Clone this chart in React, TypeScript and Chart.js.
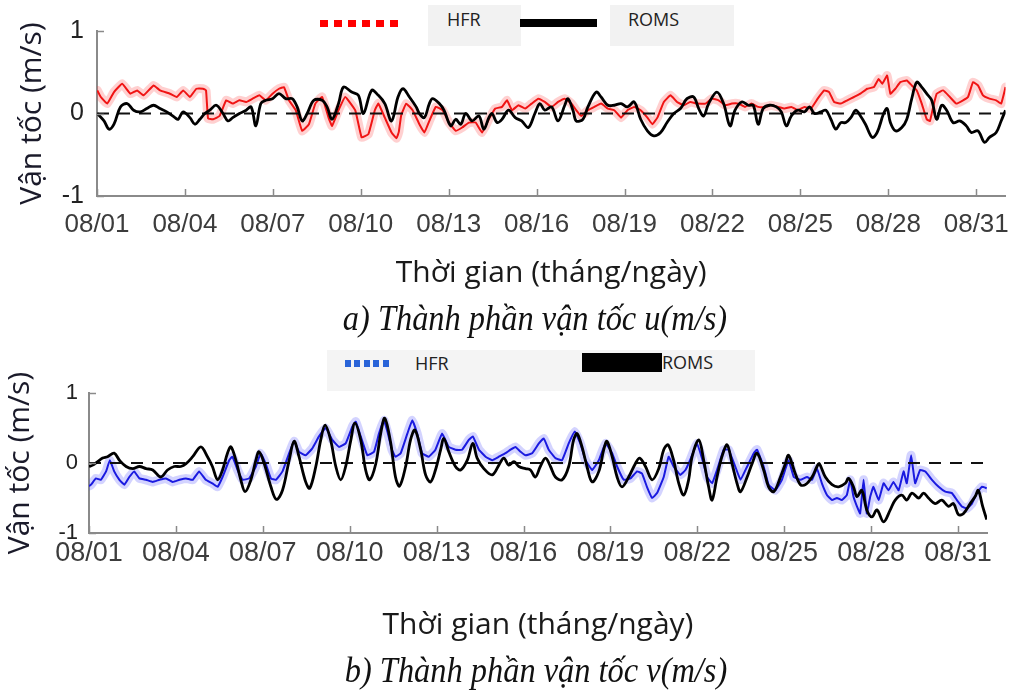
import React, { useEffect, useRef } from 'react';
import { Chart, registerables } from 'chart.js';

Chart.register(...registerables);

// ---------- data ----------
const tickDays = [1, 4, 7, 10, 13, 16, 19, 22, 25, 28, 31];
const tickLabels = ['08/01', '08/04', '08/07', '08/10', '08/13', '08/16', '08/19', '08/22', '08/25', '08/28', '08/31'];
const yTickValues = [-1, 0, 1];
const yTickLabels = ['-1', '0', '1'];
const zeroLine: [number, number][] = [[1, 0], [32, 0]];

// a) u component — HFR
const uHfr: [number, number][] = [
  [1.01,0.28],[1.13,0.20],[1.35,0.12],[1.58,0.26],[1.86,0.36],[2.14,0.24],[2.37,0.28],[2.59,0.22],[2.93,0.34],[3.15,0.28],
  [3.49,0.24],[3.72,0.20],[3.94,0.28],[4.17,0.20],[4.39,0.30],[4.62,0.30],[4.72,0.28],[4.79,-0.06],[4.96,-0.07],[5.18,-0.03],
  [5.41,0.16],[5.63,0.12],[5.86,0.16],[6.09,0.14],[6.31,0.18],[6.54,0.22],[6.76,0.16],[6.99,0.24],[7.21,0.30],[7.38,0.32],
  [7.55,0.16],[7.78,0.04],[8.00,-0.21],[8.23,-0.13],[8.45,0.12],[8.68,0.20],[8.90,-0.05],[9.02,-0.15],[9.24,0.04],[9.47,0.20],
  [9.81,0.04],[10.03,-0.29],[10.26,-0.25],[10.48,0.04],[10.60,0.12],[10.82,-0.05],[11.05,-0.23],[11.22,-0.30],[11.30,-0.22],[11.38,-0.02],
  [11.55,0.12],[11.77,0.04],[12.00,-0.13],[12.17,-0.23],[12.34,-0.09],[12.56,0.08],[12.79,0.04],[13.01,-0.11],[13.24,-0.21],[13.46,-0.17],
  [13.69,-0.11],[13.92,-0.11],[14.14,-0.23],[14.37,-0.07],[14.59,0.06],[14.82,0.08],[14.99,0.16],[15.16,0.04],[15.38,0.10],[15.61,0.06],
  [15.83,0.12],[16.06,0.18],[16.28,0.14],[16.51,0.08],[16.73,0.14],[16.96,0.18],[17.19,0.12],[17.35,0.04],[17.52,-0.03],[17.75,0.04],
  [17.97,0.08],[18.20,0.12],[18.43,0.06],[18.65,0.04],[18.88,-0.05],[19.10,0.04],[19.33,0.08],[19.55,0.04],[19.78,-0.05],[19.95,-0.13],
  [20.12,-0.05],[20.34,0.14],[20.57,0.22],[20.79,0.14],[21.02,0.10],[21.24,0.14],[21.47,0.12],[21.76,0.12],[21.98,0.18],[22.21,0.16],
  [22.43,0.10],[22.66,0.12],[22.88,0.12],[23.11,0.08],[23.33,0.12],[23.56,0.08],[23.78,0.08],[24.01,0.10],[24.24,0.08],[24.46,0.06],
  [24.69,0.08],[24.91,0.04],[25.14,0.08],[25.36,0.06],[25.59,0.18],[25.81,0.28],[25.98,0.26],[26.15,0.14],[26.38,0.12],[26.60,0.16],
  [26.83,0.20],[27.05,0.24],[27.28,0.30],[27.51,0.32],[27.67,0.42],[27.79,0.36],[27.96,0.46],[28.07,0.24],[28.24,0.30],[28.41,0.38],
  [28.63,0.40],[28.80,0.34],[28.97,0.28],[29.14,0.12],[29.31,-0.07],[29.42,-0.09],[29.53,0.08],[29.65,0.24],[29.87,0.28],[30.10,0.20],
  [30.32,0.12],[30.55,0.16],[30.72,0.20],[30.89,0.38],[31.06,0.34],[31.23,0.22],[31.45,0.18],[31.68,0.16],[31.85,0.12],[32.0,0.32],
];

// a) u component — ROMS
const uRoms: [number, number][] = [
  [1.01,0.00],[1.24,-0.09],[1.41,-0.19],[1.58,-0.13],[1.80,0.08],[2.03,0.12],[2.25,0.04],[2.48,0.02],[2.70,0.06],[2.93,0.10],
  [3.15,0.06],[3.38,0.02],[3.66,-0.05],[3.77,-0.07],[3.94,0.02],[4.17,-0.05],[4.34,-0.13],[4.51,-0.07],[4.68,0.00],[4.85,0.04],
  [5.07,0.10],[5.30,0.00],[5.47,-0.09],[5.63,-0.05],[5.86,0.00],[6.09,0.04],[6.26,0.08],[6.42,-0.15],[6.59,0.12],[6.76,0.16],
  [6.99,0.18],[7.21,0.24],[7.44,0.18],[7.66,0.18],[7.83,0.08],[8.00,-0.09],[8.17,0.00],[8.40,0.16],[8.68,0.16],[8.85,0.08],
  [9.02,-0.07],[9.24,0.12],[9.41,0.32],[9.69,0.26],[9.92,0.22],[10.09,0.00],[10.37,0.28],[10.60,0.22],[10.82,0.12],[11.05,-0.09],
  [11.27,0.20],[11.44,0.30],[11.66,0.20],[11.89,0.08],[12.00,0.00],[12.17,-0.05],[12.34,0.12],[12.45,0.18],[12.68,0.12],[12.84,0.04],
  [13.07,-0.15],[13.24,-0.07],[13.41,-0.13],[13.58,0.00],[13.80,-0.09],[14.03,-0.03],[14.20,-0.19],[14.37,-0.05],[14.48,0.00],[14.65,-0.11],
  [14.82,-0.07],[15.04,0.04],[15.27,-0.05],[15.49,-0.09],[15.72,-0.17],[15.94,0.00],[16.11,0.12],[16.28,0.04],[16.51,0.08],[16.73,-0.09],
  [16.96,0.10],[17.07,0.18],[17.24,0.04],[17.35,-0.09],[17.58,-0.07],[17.75,0.08],[18.03,0.26],[18.20,0.20],[18.43,0.10],[18.65,0.10],
  [18.88,0.12],[19.10,0.08],[19.33,0.14],[19.55,-0.07],[19.78,-0.21],[20.00,-0.27],[20.23,-0.23],[20.45,-0.11],[20.68,0.00],[20.91,0.06],
  [21.13,0.18],[21.36,0.20],[21.53,0.06],[21.70,-0.03],[21.87,0.12],[22.15,0.26],[22.38,0.12],[22.60,-0.15],[22.77,0.04],[23.00,0.14],
  [23.22,0.10],[23.39,0.10],[23.56,-0.13],[23.73,0.06],[23.95,0.10],[24.18,0.08],[24.35,0.02],[24.52,-0.15],[24.69,-0.03],[24.91,0.04],
  [25.14,0.02],[25.31,0.08],[25.48,0.00],[25.70,0.02],[25.87,0.04],[26.04,-0.07],[26.21,-0.19],[26.38,-0.11],[26.55,-0.11],[26.72,-0.05],
  [26.89,0.04],[27.05,-0.03],[27.22,-0.13],[27.45,-0.29],[27.62,-0.23],[27.84,0.00],[27.96,0.06],[28.07,-0.11],[28.24,-0.21],[28.46,-0.17],
  [28.63,-0.07],[28.80,0.18],[28.97,0.38],[29.14,0.32],[29.31,0.24],[29.48,0.16],[29.65,-0.07],[29.82,0.10],[29.99,0.04],[30.21,-0.11],
  [30.44,-0.09],[30.66,-0.15],[30.83,-0.23],[31.06,-0.21],[31.28,-0.35],[31.45,-0.29],[31.68,-0.23],[31.85,-0.09],[32.0,0.04],
];

// b) v component — HFR
const vHfr: [number, number][] = [
  [1.0,-0.33],[1.07,-0.31],[1.24,-0.22],[1.41,-0.24],[1.59,-0.12],[1.72,0.04],[1.87,-0.12],[2.05,-0.24],[2.22,-0.31],[2.39,-0.20],
  [2.56,-0.12],[2.74,-0.22],[2.97,-0.24],[3.20,-0.27],[3.43,-0.24],[3.66,-0.22],[3.89,-0.27],[4.12,-0.24],[4.35,-0.22],[4.58,-0.24],
  [4.80,-0.12],[5.03,-0.24],[5.26,-0.29],[5.44,-0.34],[5.61,-0.20],[5.84,0.04],[5.95,0.09],[6.13,-0.10],[6.30,-0.24],[6.53,-0.22],
  [6.76,-0.05],[6.93,0.14],[7.10,-0.01],[7.28,-0.22],[7.45,-0.24],[7.68,-0.12],[7.91,0.14],[8.08,0.31],[8.25,0.16],[8.48,0.11],
  [8.71,0.21],[8.94,0.38],[9.17,0.50],[9.40,0.33],[9.63,0.23],[9.86,0.28],[10.09,0.52],[10.21,0.59],[10.38,0.38],[10.61,0.11],
  [10.84,0.16],[11.01,0.42],[11.18,0.61],[11.30,0.45],[11.45,0.20],[11.58,0.09],[11.76,0.14],[11.99,0.42],[12.16,0.61],[12.33,0.42],
  [12.50,0.14],[12.73,0.09],[12.96,0.19],[13.19,0.42],[13.42,0.23],[13.65,0.19],[13.88,0.19],[14.11,0.33],[14.25,0.38],[14.46,0.19],
  [14.69,0.09],[14.92,0.04],[15.15,0.09],[15.38,0.14],[15.55,0.19],[15.72,0.23],[15.90,0.16],[16.07,0.11],[16.30,0.14],[16.53,0.28],
  [16.70,0.35],[16.87,0.19],[17.10,0.07],[17.33,0.04],[17.56,0.28],[17.77,0.45],[17.96,0.28],[18.14,0.04],[18.37,-0.10],[18.60,0.04],
  [18.83,0.28],[19.06,0.14],[19.23,-0.05],[19.46,-0.24],[19.69,-0.22],[19.92,-0.12],[20.09,-0.15],[20.26,-0.34],[20.44,-0.50],[20.61,-0.43],
  [20.84,-0.20],[21.01,0.09],[21.18,-0.05],[21.41,-0.17],[21.59,-0.10],[21.76,0.05],[21.99,0.28],[22.16,0.07],[22.34,-0.20],[22.51,-0.29],
  [22.68,-0.10],[22.91,0.19],[23.08,0.19],[23.31,-0.05],[23.49,-0.24],[23.72,-0.05],[23.95,0.14],[24.06,0.19],[24.29,-0.05],[24.46,-0.31],
  [24.69,-0.39],[24.92,-0.24],[25.15,0.04],[25.33,-0.20],[25.56,-0.24],[25.79,-0.20],[25.96,-0.24],[26.13,-0.08],[26.30,-0.29],[26.48,-0.46],
  [26.65,-0.53],[26.82,-0.50],[26.99,-0.53],[27.16,-0.46],[27.28,-0.24],[27.39,-0.48],[27.51,-0.62],[27.62,-0.72],[27.74,-0.24],[27.85,-0.72],
  [27.97,-0.48],[28.08,-0.34],[28.26,-0.53],[28.43,-0.29],[28.60,-0.39],[28.77,-0.27],[28.95,-0.39],[29.12,-0.12],[29.23,-0.29],[29.38,0.11],
  [29.52,-0.29],[29.69,-0.10],[29.87,-0.12],[30.10,-0.24],[30.33,-0.34],[30.56,-0.41],[30.79,-0.43],[30.96,-0.53],[31.13,-0.62],[31.30,-0.65],
  [31.48,-0.58],[31.65,-0.43],[31.82,-0.34],[31.99,-0.36],
];

// b) v component — ROMS
const vRoms: [number, number][] = [
  [1.0,-0.05],[1.13,-0.03],[1.30,0.02],[1.47,0.07],[1.64,0.09],[1.87,0.14],[2.05,0.04],[2.28,-0.05],[2.51,-0.08],[2.74,-0.05],
  [2.97,-0.08],[3.20,-0.10],[3.48,-0.20],[3.71,-0.10],[3.94,-0.05],[4.17,-0.05],[4.35,-0.01],[4.58,0.09],[4.86,0.23],[5.09,0.09],
  [5.26,-0.05],[5.44,-0.24],[5.61,-0.10],[5.78,0.14],[5.90,0.23],[6.07,0.04],[6.24,-0.24],[6.39,-0.41],[6.59,-0.24],[6.76,0.04],
  [6.87,0.16],[7.05,-0.01],[7.28,-0.34],[7.47,-0.52],[7.68,-0.39],[7.91,0.04],[8.08,0.31],[8.25,0.09],[8.48,-0.27],[8.62,-0.36],
  [8.83,-0.05],[9.00,0.33],[9.15,0.54],[9.34,0.33],[9.52,-0.05],[9.69,-0.24],[9.86,-0.05],[10.04,0.33],[10.18,0.57],[10.38,0.33],
  [10.55,-0.10],[10.69,-0.24],[10.90,-0.01],[11.07,0.42],[11.21,0.64],[11.41,0.30],[11.58,-0.20],[11.72,-0.33],[11.93,-0.05],[12.10,0.33],
  [12.25,0.47],[12.45,0.19],[12.62,-0.17],[12.79,-0.27],[12.96,-0.10],[13.14,0.19],[13.25,0.35],[13.42,0.16],[13.65,-0.05],[13.83,-0.10],
  [14.06,0.04],[14.25,0.28],[14.40,0.07],[14.63,-0.08],[14.92,-0.17],[15.15,-0.03],[15.32,0.07],[15.49,-0.03],[15.67,0.02],[15.84,-0.05],
  [16.07,-0.08],[16.24,-0.10],[16.41,-0.20],[16.58,-0.05],[16.76,0.07],[16.93,-0.05],[17.10,-0.20],[17.33,-0.24],[17.56,-0.05],[17.73,0.33],
  [17.85,0.42],[18.02,0.23],[18.19,-0.05],[18.37,-0.27],[18.60,-0.12],[18.77,0.19],[18.88,0.31],[19.06,0.09],[19.23,-0.20],[19.40,-0.34],
  [19.63,-0.20],[19.86,-0.01],[20.01,0.07],[20.21,-0.05],[20.44,-0.24],[20.67,-0.08],[20.84,0.19],[20.99,0.26],[21.18,0.04],[21.36,-0.29],
  [21.53,-0.46],[21.70,-0.24],[21.82,0.09],[22.05,0.33],[22.22,0.04],[22.39,-0.34],[22.51,-0.53],[22.68,-0.20],[22.85,0.09],[23.03,0.26],
  [23.20,-0.01],[23.37,-0.29],[23.49,-0.41],[23.72,-0.20],[23.89,-0.01],[24.06,0.14],[24.29,-0.10],[24.46,-0.34],[24.64,-0.41],[24.87,-0.20],
  [25.04,-0.01],[25.15,0.11],[25.38,-0.15],[25.56,-0.31],[25.73,-0.31],[25.96,-0.20],[26.13,-0.05],[26.21,-0.01],[26.42,-0.20],[26.65,-0.31],
  [26.88,-0.34],[27.11,-0.29],[27.22,-0.22],[27.39,-0.34],[27.51,-0.48],[27.68,-0.39],[27.85,-0.67],[28.03,-0.77],[28.20,-0.67],[28.43,-0.84],
  [28.66,-0.67],[28.83,-0.53],[29.06,-0.46],[29.23,-0.53],[29.41,-0.43],[29.64,-0.50],[29.81,-0.43],[29.98,-0.50],[30.21,-0.58],[30.44,-0.53],
  [30.67,-0.62],[30.84,-0.58],[31.02,-0.74],[31.19,-0.72],[31.42,-0.58],[31.59,-0.48],[31.70,-0.39],[31.85,-0.62],[31.99,-0.81],
];

// ---------- styling ----------
const AXIS_COLOR = '#8a8a8a';
const TICK_COLOR = '#3c3c3c';
const TITLE_FONT = '"Open Sans", "Noto Sans", sans-serif';
const TICK_FONT = '"Liberation Sans", Arial, sans-serif';

const innerTicks = {
  id: 'innerTicks',
  afterDraw(chart: any) {
    const { ctx, chartArea, scales } = chart;
    ctx.save();
    ctx.strokeStyle = AXIS_COLOR;
    ctx.lineWidth = 1.5;
    scales.x.ticks.forEach((t: any) => {
      const px = Math.round(scales.x.getPixelForValue(t.value)) + 0.5;
      ctx.beginPath();
      ctx.moveTo(px, chartArea.bottom);
      ctx.lineTo(px, chartArea.bottom - 7);
      ctx.stroke();
    });
    scales.y.ticks.forEach((t: any) => {
      const py = Math.round(scales.y.getPixelForValue(t.value)) + 0.5;
      ctx.beginPath();
      ctx.moveTo(chartArea.left, py);
      ctx.lineTo(chartArea.left + 7, py);
      ctx.stroke();
    });
    ctx.restore();
  },
};

type Geo = {
  width: number; height: number; padTop: number; padRight: number;
  yWidth: number; xHeight: number;
  xTickSize: number; xTickPad: number; yTickSize: number; yTickPad: number;
  titleSize: number; yTitlePad: number; xTitlePad: number;
};

function buildConfig(hfr: [number, number][], roms: [number, number][], hfrColor: string, haloColor: string, g: Geo): any {
  const toXY = (arr: [number, number][]) => arr.map(([x, y]) => ({ x, y }));
  return {
    type: 'line',
    data: {
      datasets: [
        { data: toXY(roms), borderColor: '#000', borderWidth: 2.8, tension: 0.35, pointRadius: 0, order: 1, borderJoinStyle: 'round' },
        { data: toXY(zeroLine), borderColor: '#111', borderWidth: 2, borderDash: [12, 9], pointRadius: 0, order: 2 },
        { data: toXY(hfr), borderColor: hfrColor, borderWidth: 2, pointRadius: 0, order: 3, tension: 0.1, borderJoinStyle: 'round' },
        { data: toXY(hfr), borderColor: haloColor, borderWidth: 9, pointRadius: 0, order: 4, tension: 0.1, borderJoinStyle: 'round', borderCapStyle: 'round' },
      ],
    },
    options: {
      animation: false,
      responsive: false,
      events: [],
      layout: { padding: { top: g.padTop, right: g.padRight, left: 0, bottom: 0 } },
      plugins: { legend: { display: false }, tooltip: { enabled: false } },
      scales: {
        x: {
          type: 'linear', min: 1, max: 32,
          afterBuildTicks: (s: any) => { s.ticks = tickDays.map((v) => ({ value: v })); },
          afterFit: (s: any) => { s.height = g.xHeight; },
          grid: { display: false, drawTicks: false },
          border: { display: true, color: AXIS_COLOR, width: 2 },
          ticks: {
            autoSkip: false, maxRotation: 0, padding: g.xTickPad, color: TICK_COLOR,
            font: { family: TICK_FONT, size: g.xTickSize },
            callback: (_v: any, i: number) => tickLabels[i],
          },
          title: {
            display: true, text: 'Thời gian (tháng/ngày)', color: '#1a1a1a',
            font: { family: TITLE_FONT, size: g.titleSize },
            padding: { top: 0, bottom: g.xTitlePad },
          },
        },
        y: {
          type: 'linear', min: -1, max: 1,
          afterBuildTicks: (s: any) => { s.ticks = yTickValues.map((v) => ({ value: v })); },
          afterFit: (s: any) => { s.width = g.yWidth; },
          grid: { display: false, drawTicks: false },
          border: { display: true, color: AXIS_COLOR, width: 2 },
          ticks: {
            padding: g.yTickPad, color: '#222',
            font: { family: TICK_FONT, size: g.yTickSize },
            callback: (_v: any, i: number) => yTickLabels[i],
          },
          title: {
            display: true, text: 'Vận tốc (m/s)', color: '#1a1a2a',
            font: { family: TITLE_FONT, size: g.titleSize },
            padding: { top: g.yTitlePad, bottom: 0 },
          },
        },
      },
    },
    plugins: [innerTicks],
  };
}

function PanelChart(props: { hfr: [number, number][]; roms: [number, number][]; hfrColor: string; haloColor: string; g: Geo; top: number }) {
  const ref = useRef<HTMLCanvasElement | null>(null);
  useEffect(() => {
    if (!ref.current) return;
    const chart = new Chart(ref.current, buildConfig(props.hfr, props.roms, props.hfrColor, props.haloColor, props.g));
    return () => chart.destroy();
  }, []);
  return (
    <canvas
      ref={ref}
      width={props.g.width}
      height={props.g.height}
      style={{ position: 'absolute', left: 0, top: props.top, width: props.g.width, height: props.g.height }}
    />
  );
}

const geoA: Geo = {
  width: 1022, height: 340, padTop: 31, padRight: 7, yWidth: 97, xHeight: 144,
  xTickSize: 26, xTickPad: 13, yTickSize: 25, yTickPad: 13,
  titleSize: 30, yTitlePad: 14, xTitlePad: 49,
};
const geoB: Geo = {
  width: 1022, height: 352, padTop: 53, padRight: 35, yWidth: 89, xHeight: 159,
  xTickSize: 27, xTickPad: 4, yTickSize: 22, yTickPad: 11,
  titleSize: 30, yTitlePad: 2, xTitlePad: 49,
};

const legendText: React.CSSProperties = {
  position: 'absolute', fontFamily: TITLE_FONT, fontSize: 18, color: '#222', lineHeight: '20px',
};
const captionStyle: React.CSSProperties = {
  position: 'absolute', fontFamily: '"Liberation Serif", "Times New Roman", serif', fontStyle: 'italic',
  fontSize: 36, color: '#111', whiteSpace: 'nowrap', lineHeight: '40px',
};

export default function App() {
  return (
    <div style={{ position: 'fixed', left: 0, top: 0, width: 1022, height: 692, background: '#fff', overflow: 'hidden' }}>
      <PanelChart hfr={uHfr} roms={uRoms} hfrColor="#f01414" haloColor="rgba(255,60,60,0.24)" g={geoA} top={0} />
      <PanelChart hfr={vHfr} roms={vRoms} hfrColor="#1a1ae0" haloColor="rgba(70,70,255,0.24)" g={geoB} top={340} />

      {/* legend a */}
      <div style={{ position: 'absolute', left: 320, top: 20, width: 78, height: 7, background: 'repeating-linear-gradient(90deg, #ff0000 0 8px, transparent 8px 14px)' }} />
      <div style={{ position: 'absolute', left: 428, top: 5, width: 93, height: 41, background: '#f2f2f2' }} />
      <div style={{ ...legendText, left: 447, top: 9 }}>HFR</div>
      <div style={{ position: 'absolute', left: 520, top: 19, width: 77, height: 8, background: '#000' }} />
      <div style={{ position: 'absolute', left: 610, top: 5, width: 124, height: 41, background: '#f2f2f2' }} />
      <div style={{ ...legendText, left: 628, top: 9 }}>ROMS</div>

      {/* legend b */}
      <div style={{ position: 'absolute', left: 327, top: 350, width: 428, height: 41, background: '#f4f4f4' }} />
      <div style={{ position: 'absolute', left: 345, top: 360, width: 47, height: 7, background: 'repeating-linear-gradient(90deg, #2a64d8 0 6px, transparent 6px 9.5px)' }} />
      <div style={{ ...legendText, left: 415, top: 353 }}>HFR</div>
      <div style={{ position: 'absolute', left: 582, top: 353, width: 80, height: 19, background: '#000' }} />
      <div style={{ ...legendText, left: 662, top: 352 }}>ROMS</div>

      {/* captions */}
      <div style={{ ...captionStyle, left: 535, top: 318, transform: 'translate(-50%, -50%) scaleX(0.9)' }}>a) Thành phần vận tốc u(m/s)</div>
      <div style={{ ...captionStyle, left: 536, top: 670, transform: 'translate(-50%, -50%) scaleX(0.9)' }}>b) Thành phần vận tốc v(m/s)</div>
    </div>
  );
}
